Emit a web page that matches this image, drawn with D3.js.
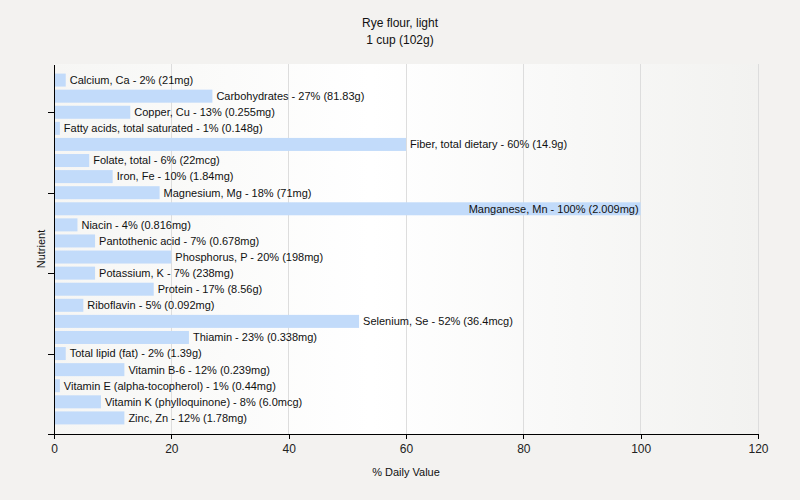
<!DOCTYPE html>
<html>
<head>
<meta charset="utf-8">
<script src="https://cdn.jsdelivr.net/npm/d3@7"></script>
<style>
  body { margin: 0; background: #f3f2f0; }
  svg text { font-family: "Liberation Sans", Arial, sans-serif; }
</style>
</head>
<body>
<svg id="chart" width="800" height="500"></svg>
<script>
const nutrients = [
  "Calcium, Ca", "Carbohydrates", "Copper, Cu", "Fatty acids, total saturated",
  "Fiber, total dietary", "Folate, total", "Iron, Fe", "Magnesium, Mg",
  "Manganese, Mn", "Niacin", "Pantothenic acid", "Phosphorus, P",
  "Potassium, K", "Protein", "Riboflavin", "Selenium, Se", "Thiamin",
  "Total lipid (fat)", "Vitamin B-6", "Vitamin E (alpha-tocopherol)",
  "Vitamin K (phylloquinone)", "Zinc, Zn"
];
const percents = [2, 27, 13, 1, 60, 6, 10, 18, 100, 4, 7, 20, 7, 17, 5, 52, 23, 2, 12, 1, 8, 12];
const amounts = [
  "21mg", "81.83g", "0.255mg", "0.148g", "14.9g", "22mcg", "1.84mg", "71mg",
  "2.009mg", "0.816mg", "0.678mg", "198mg", "238mg", "8.56g", "0.092mg",
  "36.4mcg", "0.338mg", "1.39g", "0.239mg", "0.44mg", "6.0mcg", "1.78mg"
];
const xTicks = [0, 20, 40, 60, 80, 100, 120];
const yTicks = [0, 5, 10, 15, 20];

const svg = d3.select("#chart");
const margin = { left: 54, right: 42, top: 64, bottom: 66 };
const W = 800, H = 500;

const x = d3.scaleLinear().domain([0, 120]).range([margin.left, W - margin.right]);
// position counted from the bottom: Zinc = 1 ... Calcium = 22
const y = d3.scaleLinear().domain([0, nutrients.length + 1]).range([H - margin.bottom, margin.top]);

// plot background gradient
const defs = svg.append("defs");
const grad = defs.append("linearGradient").attr("id", "bg").attr("x1", "0").attr("x2", "1");
grad.append("stop").attr("offset", "0").attr("stop-color", "#f6f6f4");
grad.append("stop").attr("offset", "0.45").attr("stop-color", "#ffffff");
grad.append("stop").attr("offset", "1").attr("stop-color", "#f2f2f0");

svg.append("rect")
  .attr("x", x(0)).attr("y", y(nutrients.length + 1))
  .attr("width", x(120) - x(0)).attr("height", y(0) - y(nutrients.length + 1))
  .attr("fill", "url(#bg)");

// grid
svg.append("g").selectAll("line").data(xTicks.slice(1)).join("line")
  .attr("x1", d => x(d)).attr("x2", d => x(d))
  .attr("y1", y(nutrients.length + 1)).attr("y2", y(0))
  .attr("stroke", "#dddddd").attr("stroke-width", 1)
  .attr("shape-rendering", "crispEdges");

const pos = i => nutrients.length - i;
const barH = 13;

svg.append("g").selectAll("rect").data(percents).join("rect")
  .attr("x", x(0))
  .attr("y", (d, i) => y(pos(i)) - barH / 2)
  .attr("width", d => x(d) - x(0))
  .attr("height", barH)
  .attr("fill", "#c2dbfa");

const labels = svg.append("g").selectAll("text").data(percents).join("text")
  .attr("y", (d, i) => y(pos(i)))
  .attr("dy", "0.35em")
  .attr("font-size", 11)
  .attr("fill", "#111")
  .text((d, i) => `${nutrients[i]} - ${d}% (${amounts[i]})`);

labels.each(function (d) {
  const t = d3.select(this);
  const w = this.getComputedTextLength();
  if (x(d) + 4 + w > x(120)) {
    t.attr("x", x(d) - 2).attr("text-anchor", "end");
  } else {
    t.attr("x", x(d) + 4).attr("text-anchor", "start");
  }
});

// axes
const xAxis = svg.append("g")
  .attr("transform", `translate(0,${y(0)})`)
  .call(d3.axisBottom(x).tickValues(xTicks).tickSize(5).tickSizeOuter(0));
xAxis.selectAll("text").attr("font-size", 12).attr("fill", "#222").attr("dy", "0.9em");

const yAxis = svg.append("g")
  .attr("transform", `translate(${x(0)},0)`)
  .call(d3.axisLeft(y).tickValues(yTicks).tickSize(6).tickSizeOuter(0).tickFormat(""));

svg.selectAll(".domain, .tick line").attr("stroke", "#000").attr("shape-rendering", "crispEdges");

// titles
svg.append("text").attr("x", W / 2).attr("y", 27).attr("text-anchor", "middle")
  .attr("font-size", 12).attr("fill", "#111").text("Rye flour, light");
svg.append("text").attr("x", W / 2).attr("y", 44).attr("text-anchor", "middle")
  .attr("font-size", 12).attr("fill", "#111").text("1 cup (102g)");

svg.append("text").attr("x", (x(0) + x(120)) / 2).attr("y", 476).attr("text-anchor", "middle")
  .attr("font-size", 11).attr("fill", "#111").text("% Daily Value");

svg.append("text")
  .attr("transform", `translate(45,${(y(0) + y(nutrients.length + 1)) / 2}) rotate(-90)`)
  .attr("text-anchor", "middle")
  .attr("font-size", 11).attr("fill", "#111").text("Nutrient");
</script>
</body>
</html>
